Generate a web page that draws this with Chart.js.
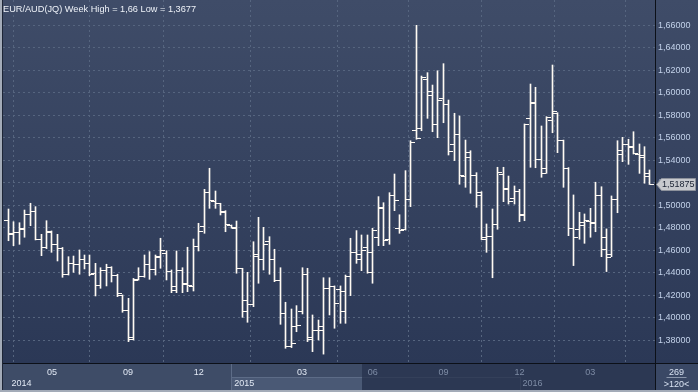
<!DOCTYPE html>
<html><head><meta charset="utf-8">
<script src="https://cdn.jsdelivr.net/npm/chart.js@4.4.0/dist/chart.umd.min.js"></script>
<style>html,body{margin:0;padding:0;background:#2b3856;overflow:hidden}#wrap{width:698px;height:392px;position:relative}</style>
</head><body><div id="wrap"><canvas id="c" width="698" height="392"></canvas></div>
<script>
// ---------- DATA (weekly OHLC, EUR/AUD) ----------
const openVals = [1.4869,1.4751,1.4757,1.4796,1.4914,1.4949,1.4698,1.4627,1.4757,1.4647,
1.4618,1.4389,1.4484,1.4476,1.4514,1.4484,1.4396,1.4285,1.4419,1.4449,
1.4380,1.4194,1.4063,1.3823,1.4342,1.4365,1.4476,1.4425,1.4549,1.4573,
1.4410,1.4276,1.4419,1.4307,1.4276,1.4638,1.4810,1.5116,1.5032,1.5012,
1.4943,1.4819,1.4796,1.4434,1.4158,1.4114,1.4564,1.4520,1.4676,1.4514,
1.4330,1.4040,1.3743,1.3921,1.4054,1.4387,1.3827,1.3885,1.3883,1.4262,
1.4276,1.4247,1.4060,1.4365,1.4582,1.4522,1.4623,1.4404,1.4716,1.4973,
1.4692,1.5083,1.4796,1.4787,1.5053,1.5669,1.5684,1.6114,1.6016,1.5714,
1.5951,1.5900,1.5536,1.5625,1.5260,1.5471,1.5263,1.5083,1.4716,1.4721,
1.4825,1.5276,1.5151,1.5062,1.5121,1.4908,1.5773,1.5916,1.5409,1.5329,
1.5758,1.5818,1.5574,1.5329,1.4796,1.4787,1.4849,1.4854,1.4849,1.5083,
1.4716,1.4564,1.5053,1.5453,1.5542,1.5516,1.5453,1.5447,1.5285];
const highVals = [1.4967,1.4854,1.4845,1.4958,1.5018,1.4988,1.4742,1.4863,1.4772,1.4742,
1.4625,1.4543,1.4549,1.4603,1.4558,1.4558,1.4484,1.4445,1.4476,1.4454,
1.4387,1.4203,1.4173,1.4350,1.4445,1.4558,1.4588,1.4558,1.4707,1.4596,
1.4425,1.4594,1.4445,1.4627,1.4700,1.4840,1.5142,1.5329,1.5127,1.5018,
1.4952,1.4825,1.4860,1.4440,1.4404,1.4676,1.4893,1.4804,1.4721,1.4609,
1.4445,1.4138,1.4078,1.4108,1.4445,1.4440,1.4025,1.3980,1.4356,1.4356,
1.4283,1.4283,1.4380,1.4707,1.4775,1.4736,1.4736,1.4796,1.5077,1.5023,
1.5112,1.5278,1.4916,1.5308,1.5574,1.6600,1.6149,1.6179,1.6069,1.6196,
1.6259,1.5936,1.5818,1.5794,1.5580,1.5485,1.5290,1.5121,1.4834,1.4967,
1.5338,1.5338,1.5260,1.5172,1.5142,1.5723,1.6078,1.6049,1.5705,1.5788,
1.6247,1.5823,1.5580,1.5335,1.5092,1.4938,1.4923,1.4973,1.5205,1.5165,
1.4790,1.5083,1.5574,1.5604,1.5587,1.5654,1.5545,1.5521,1.5314];
const lowVals = [1.4685,1.4641,1.4653,1.4716,1.4819,1.4692,1.4552,1.4615,1.4582,1.4505,
1.4360,1.4380,1.4404,1.4387,1.4434,1.4374,1.4194,1.4262,1.4283,1.4318,
1.4188,1.4049,1.3788,1.3803,1.4335,1.4360,1.4342,1.4380,1.4440,1.4336,
1.4223,1.4223,1.4223,1.4232,1.4238,1.4594,1.4751,1.4973,1.4973,1.4914,
1.4765,1.4796,1.4396,1.4004,1.3960,1.4099,1.4307,1.4425,1.4387,1.4321,
1.3942,1.3729,1.3735,1.3876,1.4034,1.3788,1.3699,1.3803,1.3677,1.4025,
1.3907,1.3951,1.3951,1.4197,1.4484,1.4419,1.4396,1.4307,1.4641,1.4641,
1.4653,1.4952,1.4751,1.4780,1.4988,1.5587,1.5663,1.5773,1.5654,1.5601,
1.5734,1.5447,1.5397,1.5187,1.5160,1.5107,1.4982,1.4695,1.4582,1.4356,
1.4787,1.5032,1.5011,1.5011,1.4854,1.4863,1.5338,1.5334,1.5249,1.5284,
1.5645,1.5468,1.5160,1.4730,1.4464,1.4698,1.4662,1.4716,1.4765,1.4543,
1.4411,1.4543,1.4934,1.5388,1.5364,1.5456,1.5284,1.5196,1.5185];
const closeVals = [1.4742,1.4757,1.4787,1.4914,1.4949,1.4698,1.4627,1.4765,1.4647,1.4618,
1.4389,1.4484,1.4476,1.4514,1.4484,1.4387,1.4285,1.4419,1.4449,1.4380,
1.4212,1.4063,1.3809,1.4335,1.4365,1.4476,1.4425,1.4538,1.4594,1.4410,
1.4241,1.4419,1.4292,1.4283,1.4638,1.4765,1.5116,1.5047,1.5012,1.4938,
1.4825,1.4801,1.4434,1.4060,1.4114,1.4543,1.4520,1.4653,1.4514,1.4330,
1.4040,1.3743,1.3767,1.3930,1.4387,1.3803,1.3885,1.3921,1.4262,1.4276,
1.4123,1.4238,1.4365,1.4582,1.4564,1.4602,1.4582,1.4780,1.4982,1.4685,
1.5083,1.5044,1.4774,1.5053,1.5559,1.5595,1.6138,1.5972,1.5714,1.5936,
1.5900,1.5477,1.5625,1.5269,1.5423,1.5263,1.5116,1.4700,1.4721,1.4825,
1.5293,1.5142,1.5032,1.5121,1.4914,1.5714,1.5907,1.5409,1.5284,1.5779,
1.5832,1.5574,1.5329,1.4790,1.4716,1.4819,1.4863,1.4834,1.5083,1.4603,
1.4532,1.5053,1.5483,1.5542,1.5521,1.5456,1.5427,1.5254,1.51875];

const monthTickIdx    = [8, 22, 35, 54, 67, 80, 94, 107];
const monthTickLabels = ['05','09','12','03','06','09','12','03'];
const yearLabels   = ['2014','2015','2016'];
const yearStartIdx = [0, 41, 94];
const yTickValues = [1.38,1.40,1.42,1.44,1.46,1.48,1.50,1.52,1.54,1.56,1.58,1.60,1.62,1.64,1.66];
const lastPrice = 1.51875;
const titleText = 'EUR/AUD(JQ) Week High = 1,66 Low = 1,3677';
const totalBarsLabel = '269';
const visibleBarsLabel = '>120<';

// ---------- layout / style constants ----------
const X_MIN = -1, X_MAX = 118.92, Y_MIN = 1.3598, Y_MAX = 1.6825;
const WINDOW_END_IDX = 65;
const FONT = '"Liberation Sans", Arial, sans-serif';
Chart.defaults.font.family = FONT;
Chart.defaults.font.size = 9;

const fmt = v => v.toFixed(5).replace('.', ',');

const bgPlugin = {
  id: 'bg',
  beforeDraw(chart) {
    const ctx = chart.ctx, W = chart.width, H = chart.height;
    const ca = chart.chartArea;
    const g = ctx.createLinearGradient(0, 0, 0, ca.bottom);
    g.addColorStop(0, '#3f4c68');
    g.addColorStop(1, '#2b3856');
    ctx.save();
    ctx.fillStyle = g;
    ctx.fillRect(0, 0, W, ca.bottom);
    // bottom axis band
    const xs = chart.scales.x;
    const wEnd = Math.round(xs.getPixelForValue(WINDOW_END_IDX));
    const y15 = Math.round(xs.getPixelForValue(yearStartIdx[1]));
    const top = ca.bottom, mid = top + 14, bot = H - 2;
    ctx.fillStyle = '#2c3853';
    ctx.fillRect(0, top, W, H - top);
    ctx.fillStyle = '#3e4c67';
    ctx.fillRect(ca.left, top, wEnd - ca.left, bot - top);
    ctx.fillStyle = '#4a5975';
    ctx.fillRect(y15, mid, wEnd - y15, bot - mid);
    ctx.strokeStyle = '#5d6c87';
    ctx.lineWidth = 1;
    ctx.beginPath();
    ctx.moveTo(y15 + 0.5, top); ctx.lineTo(y15 + 0.5, bot);
    ctx.moveTo(y15, mid + 0.5); ctx.lineTo(wEnd, mid + 0.5);
    ctx.stroke();
    ctx.strokeStyle = '#34405a';
    ctx.beginPath();
    ctx.moveTo(wEnd, mid + 0.5); ctx.lineTo(Math.round(xs.getPixelForValue(yearStartIdx[2])), mid + 0.5);
    const x16 = Math.round(xs.getPixelForValue(yearStartIdx[2]));
    ctx.moveTo(x16 + 0.5, mid); ctx.lineTo(x16 + 0.5, bot);
    ctx.stroke();
    // corner box
    ctx.fillStyle = '#3a4865';
    ctx.fillRect(ca.right, top, W - ca.right, bot - top);
    ctx.restore();
  }
};

const ohlcPlugin = {
  id: 'ohlc',
  beforeDatasetsDraw(chart) {
    chart.getDatasetMeta(0).data.forEach(el => { el.x = Math.round(el.x - 0.5) + 0.5; });
  },
  afterDatasetsDraw(chart) {
    const ctx = chart.ctx, ys = chart.scales.y;
    const meta = chart.getDatasetMeta(0);
    ctx.save();
    ctx.strokeStyle = '#fffaf3';
    ctx.lineWidth = 1;
    ctx.beginPath();
    meta.data.forEach((el, i) => {
      const n = el.x - 0.5;
      const yo = Math.round(ys.getPixelForValue(openVals[i]) - 0.5) + 0.5;
      const yc = Math.round(ys.getPixelForValue(closeVals[i]) - 0.5) + 0.5;
      ctx.moveTo(n - 4, yo); ctx.lineTo(n, yo);
      ctx.moveTo(n + 1, yc); ctx.lineTo(n + 5, yc);
    });
    ctx.stroke();
    ctx.restore();
  }
};

const overlayPlugin = {
  id: 'overlay',
  afterDraw(chart) {
    const ctx = chart.ctx, W = chart.width, H = chart.height;
    const ca = chart.chartArea, xs = chart.scales.x, ys = chart.scales.y;
    ctx.save();
    // frame lines
    ctx.fillStyle = '#0c1018';
    ctx.fillRect(ca.right, 0, 1, H);
    ctx.fillRect(ca.left, ca.bottom, W - ca.left, 1);
    ctx.fillStyle = '#a3abb8';
    ctx.fillRect(0, 0, 2, H);
    ctx.fillRect(0, H - 2, W, 2);
    ctx.fillStyle = '#1d2536';
    ctx.fillRect(2, 0, 1, H - 2);
    // title
    ctx.font = '9.2px ' + FONT;
    ctx.textBaseline = 'alphabetic';
    const tw = ctx.measureText(titleText).width;
    ctx.save();
    ctx.translate(3, 12);
    ctx.scale(193 / tw, 1);
    ctx.fillStyle = '#eef2f8';
    ctx.fillText(titleText, 0, 0);
    ctx.restore();
    // year labels
    ctx.font = '9px ' + FONT;
    yearLabels.forEach((t, k) => {
      ctx.fillStyle = yearStartIdx[k] >= WINDOW_END_IDX ? '#7e8ca5' : '#e2e9f4';
      ctx.fillText(t, xs.getPixelForValue(yearStartIdx[k]) + 3, 386);
    });
    // corner panel
    const cx = (ca.right + W) / 2;
    ctx.textAlign = 'center';
    ctx.fillStyle = '#d8e2f2';
    ctx.fillText(totalBarsLabel, cx, 375);
    ctx.fillText(visibleBarsLabel, cx, 387);
    ctx.fillStyle = '#8a96ab';
    ctx.fillRect(cx - 10, 377, 20, 1);
    // last price tag
    const yp = Math.round(ys.getPixelForValue(lastPrice));
    ctx.beginPath();
    ctx.moveTo(ca.right + 1.5, yp + 0.5);
    ctx.lineTo(ca.right + 6.5, yp - 5.5);
    ctx.lineTo(W - 2.5, yp - 5.5);
    ctx.lineTo(W - 2.5, yp + 6.5);
    ctx.lineTo(ca.right + 6.5, yp + 6.5);
    ctx.closePath();
    ctx.fillStyle = '#c7c9ce';
    ctx.fill();
    ctx.strokeStyle = '#8d929c';
    ctx.lineWidth = 1;
    ctx.stroke();
    ctx.textAlign = 'left';
    ctx.textBaseline = 'middle';
    ctx.fillStyle = '#1a2233';
    ctx.fillText(fmt(lastPrice), ca.right + 7, yp + 1);
    ctx.restore();
  }
};

new Chart(document.getElementById('c'), {
  type: 'bar',
  data: {
    datasets: [{
      data: highVals.map((h, i) => ({ x: i, y: [lowVals[i], h] })),
      backgroundColor: '#fffaf3',
      borderWidth: 0,
      barThickness: 1,
      grouped: false
    }]
  },
  options: {
    responsive: false,
    animation: false,
    devicePixelRatio: 1,
    events: [],
    layout: { padding: { left: 3, top: 0, right: 0, bottom: 0 } },
    plugins: { legend: { display: false }, tooltip: { enabled: false }, title: { display: false } },
    scales: {
      x: {
        type: 'linear', min: X_MIN, max: X_MAX, offset: false,
        afterBuildTicks: s => { s.ticks = monthTickIdx.map(v => ({ value: v })); },
        afterFit: s => { s.height = 29; s.paddingLeft = 0; s.paddingRight = 0; },
        ticks: {
          autoSkip: false, maxRotation: 0, minRotation: 0, padding: 4,
          font: { size: 9 },
          color: c => (monthTickIdx[c.index] >= WINDOW_END_IDX ? '#7e8ca5' : '#e2e9f4'),
          callback: (v, i) => monthTickLabels[i]
        },
        grid: { color: '#56657f', drawTicks: false, lineWidth: 1 },
        border: { display: false, dash: [2, 3] }
      },
      y: {
        position: 'right', min: Y_MIN, max: Y_MAX,
        afterBuildTicks: s => { s.ticks = yTickValues.map(v => ({ value: v })); },
        afterFit: s => { s.width = 43; s.paddingTop = 0; s.paddingBottom = 0; },
        ticks: { padding: 3, font: { size: 9 }, color: '#c3d2ea', callback: v => fmt(v) },
        grid: { color: '#56657f', drawTicks: false, lineWidth: 1 },
        border: { display: false, dash: [2, 3] }
      }
    }
  },
  plugins: [bgPlugin, ohlcPlugin, overlayPlugin]
});
</script>
</body></html>
